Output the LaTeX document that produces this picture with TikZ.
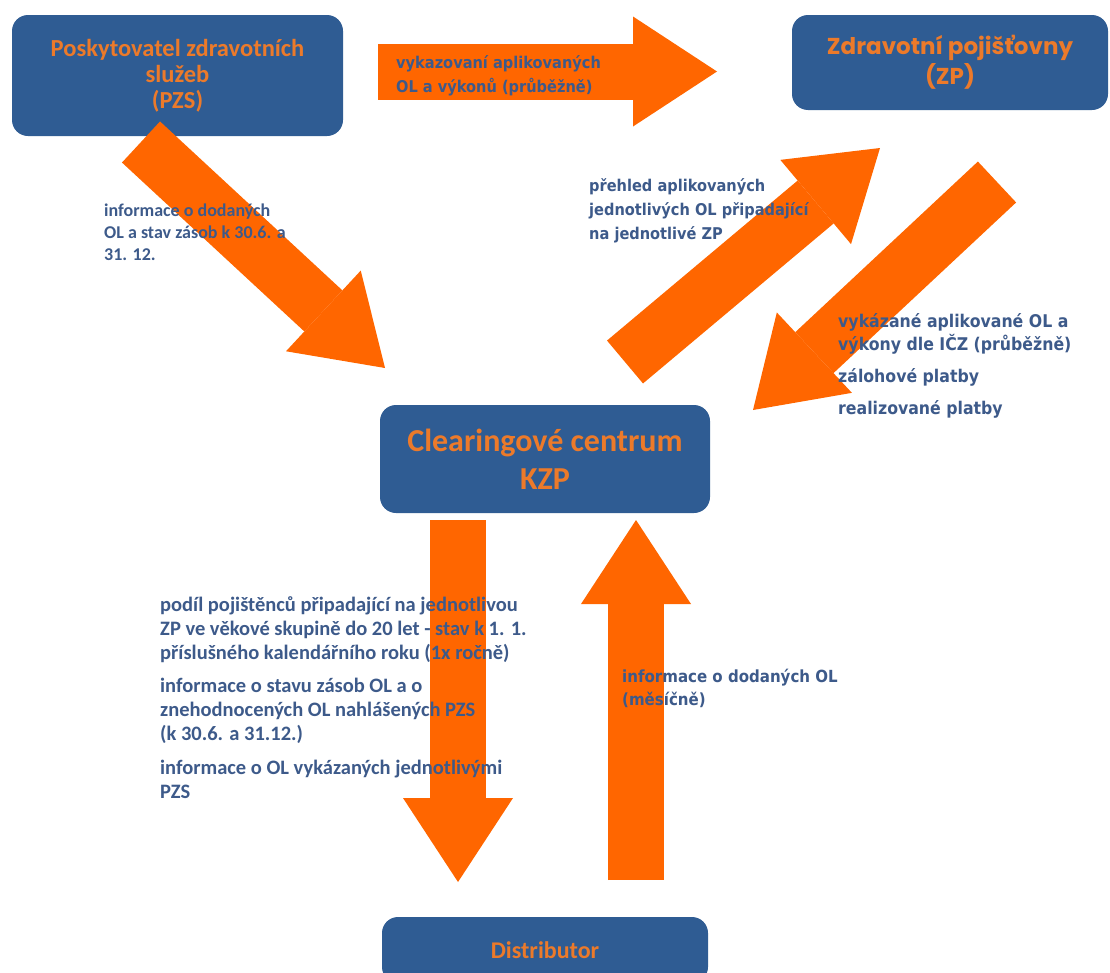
\documentclass[tikz,border=0pt]{standalone}
\usepackage{fontspec}
\setmainfont{Carlito}
\newfontfamily\labelfont{DejaVu Sans}[FakeStretch=0.9]
\newfontfamily\zpfont{Poppins}
\usetikzlibrary{arrows.meta}
\definecolor{boxblue}{HTML}{2F5C93}
\definecolor{flowor}{HTML}{FF6600}
\definecolor{titleor}{HTML}{EC7A2A}
\definecolor{txtblue}{HTML}{3D5A8A}
\tikzset{
  party/.style={rounded corners=16pt, fill=boxblue, text=titleor, align=center, inner sep=0pt},
  flow/.style={draw=flowor, line width=56pt, -{Triangle[length=84pt, width=110pt, line width=0pt]}},
  note/.style={anchor=west, align=left, text=txtblue, inner sep=0pt},
  cnote/.style={note, font=\fontsize{18}{22}\selectfont\bfseries},
  tnote/.style={note, font=\labelfont\fontsize{16.2}{24}\selectfont\bfseries}
}

\begin{document}
\begin{tikzpicture}[x=1pt, y=-1pt]
  \useasboundingbox (0,0) rectangle (1110,972);
  % parties
  \node[party, minimum width=331pt, minimum height=121pt, font=\fontsize{24.5}{26}\selectfont\bfseries] (pzs) at (177.5,75.5) {Poskytovatel zdravotních\\služeb\\(PZS)};
  \node[party, minimum width=316pt, minimum height=95pt, font=\zpfont\fontsize{23}{30}\selectfont\bfseries] (zp) at (950,62.5) {Zdravotní pojišťovny\\(ZP)};
  \node[party, minimum width=330pt, minimum height=108pt, font=\fontsize{32}{38}\selectfont\bfseries] (kzp) at (545,459) {Clearingové centrum\\KZP};
  \node[party, minimum width=326pt, minimum height=66pt, font=\fontsize{24}{26}\selectfont\bfseries] (distributor) at (545,950) {Distributor};
  % arrow ends
  \coordinate (pzs-out) at (378,71.5);
  \coordinate (zp-in) at (717,71.5);
  \coordinate (pzs-down) at (141,142);
  \coordinate (kzp-in1) at (385,368);
  \coordinate (kzp-out1) at (625,362);
  \coordinate (zp-in2) at (880,148);
  \coordinate (zp-out) at (997,182);
  \coordinate (kzp-in2) at (753,410);
  \coordinate (kzp-out2) at (458,520);
  \coordinate (dist-in) at (458,882);
  \coordinate (dist-out) at (636,880);
  \coordinate (kzp-in3) at (636,520);
  \draw[flow] (pzs-out) -- (zp-in);
  \draw[flow] (pzs-down) -- (kzp-in1);
  \draw[flow] (kzp-out1) -- (zp-in2);
  \draw[flow] (zp-out) -- (kzp-in2);
  \draw[flow] (kzp-out2) -- (dist-in);
  \draw[flow] (dist-out) -- (kzp-in3);
  % labels
  \node[tnote] (l-report) at (396,76) {vykazovaní aplikovaných\\OL a výkonů (průběžně)};
  \node[cnote] (l-stock) at (104,232) {informace o dodaných\\OL a stav zásob k 30.6. a\\31. 12.};
  \node[tnote] (l-review) at (589,211) {přehled aplikovaných\\jednotlivých OL připadající\\na jednotlivé ZP};
  \node[tnote, font=\labelfont\fontsize{17.5}{23}\selectfont\bfseries] (l-pay) at (838,365.5) {vykázané aplikované OL a\\výkony dle IČZ (průběžně)\\[9pt]zálohové platby\\[9pt]realizované platby};
  \node[cnote, font=\fontsize{20.5}{24}\selectfont\bfseries] (l-share) at (160,697.5) {podíl pojištěnců připadající na jednotlivou\\ZP ve věkové skupině do 20 let - stav k 1. 1.\\příslušného kalendářního roku (1x ročně)\\[9pt]informace o stavu zásob OL a o\\znehodnocených OL nahlášených PZS\\(k 30.6. a 31.12.)\\[10pt]informace o OL vykázaných jednotlivými\\PZS};
  \node[tnote, font=\labelfont\fontsize{16.7}{23}\selectfont\bfseries] (l-monthly) at (622,688.5) {informace o dodaných OL\\(měsíčně)};
\end{tikzpicture}
\end{document}
